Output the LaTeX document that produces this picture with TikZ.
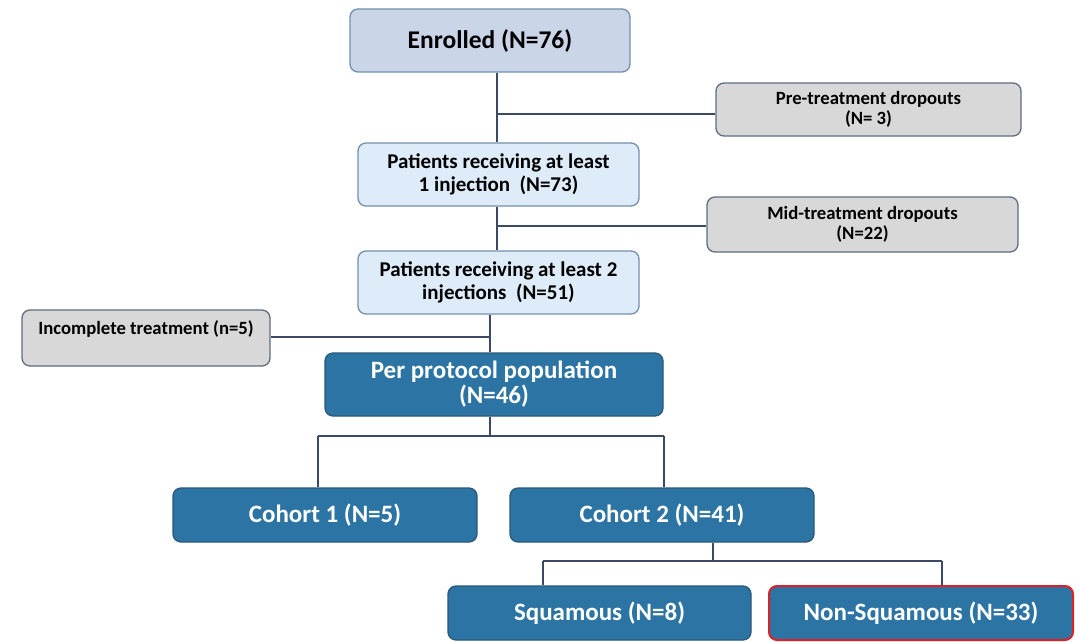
\documentclass[tikz,border=0pt]{standalone}
\usepackage{fontspec}
\setmainfont{Carlito}
\definecolor{lineC}{HTML}{3A4A66}
\definecolor{enrF}{HTML}{CBD5E8}
\definecolor{lbF}{HTML}{DDECF8}
\definecolor{lbD}{HTML}{7390AD}
\definecolor{grF}{HTML}{D8D8D8}
\definecolor{grD}{HTML}{5E6E80}
\definecolor{dbF}{HTML}{2C74A3}
\definecolor{dbD}{HTML}{2A5878}
\definecolor{redD}{HTML}{E02028}
\tikzset{
  box/.style={rectangle, rounded corners=8pt, line width=1.3pt, align=center, font=\bfseries, inner sep=2pt},
  enrbox/.style={box, fill=enrF, draw=lbD, font=\bfseries\fontsize{25.5}{27}\selectfont},
  lbbox/.style={box, fill=lbF, draw=lbD, font=\bfseries\fontsize{21}{23}\selectfont},
  grbox/.style={box, fill=grF, draw=grD, font=\bfseries\fontsize{18.7}{20}\selectfont},
  dbbox/.style={box, fill=dbF, draw=dbD, text=white, font=\bfseries\fontsize{25}{25}\selectfont},
  conn/.style={draw=lineC, line width=1.8pt},
}
\begin{document}
\begin{tikzpicture}[x=1pt,y=-1pt]
\useasboundingbox (0,0) rectangle (1079,641);
\fill[white] (0,0) rectangle (1079,641);
\coordinate (j1) at (497,114);
\coordinate (j2) at (497,226);
\coordinate (j3) at (490,337);
\coordinate (j4) at (490,436);
\coordinate (j4l) at (318,436);
\coordinate (j4r) at (664,436);
\coordinate (j5) at (713,561);
\coordinate (j5l) at (543,561);
\coordinate (j5r) at (942,561);

\node[enrbox, minimum width=280pt, minimum height=63pt] (enr) at (490,40.5) {Enrolled (N=76)};
\node[grbox, minimum width=305pt, minimum height=53pt] (pre) at (868.5,109.5) {Pre-treatment dropouts\\(N= 3)};
\node[lbbox, minimum width=281pt, minimum height=63pt] (p1) at (498.5,174.5) {Patients receiving at least\\1 injection~~(N=73)};
\node[grbox, minimum width=311pt, minimum height=55pt] (mid) at (862.5,224.5) {Mid-treatment dropouts\\(N=22)};
\node[lbbox, minimum width=281pt, minimum height=63pt] (p2) at (498.5,282.5) {Patients receiving at least 2\\injections~~(N=51)};
\node[grbox, minimum width=248pt, minimum height=56pt] (inc) at (146,338) {Incomplete treatment (n=5)\\\mbox{}};
\node[dbbox, minimum width=338pt, minimum height=63pt] (pp) at (494,384.5) {Per protocol population\\(N=46)};
\node[dbbox, minimum width=304pt, minimum height=54pt] (c1) at (325,515) {Cohort 1 (N=5)};
\node[dbbox, minimum width=304pt, minimum height=54pt] (c2) at (662,515) {Cohort 2 (N=41)};
\node[dbbox, minimum width=303pt, minimum height=54pt] (sq) at (599.5,613) {Squamous (N=8)};
\node[dbbox, draw=redD, line width=2pt, minimum width=304pt, minimum height=54pt] (nsq) at (921,613) {Non-Squamous (N=33)};

\draw[conn] (enr.south -| j1) -- (p1.north -| j1);
\draw[conn] (j1) -- (pre.west |- j1);
\draw[conn] (p1.south -| j2) -- (p2.north -| j2);
\draw[conn] (j2) -- (mid.west |- j2);
\draw[conn] (p2.south -| j3) -- (pp.north -| j3);
\draw[conn] (j3) -- (inc.east |- j3);
\draw[conn] (pp.south -| j4) -- (j4);
\draw[conn] (j4l) -- (j4r);
\draw[conn] (j4l) -- (c1.north -| j4l);
\draw[conn] (j4r) -- (c2.north -| j4r);
\draw[conn] (c2.south -| j5) -- (j5);
\draw[conn] (j5l) -- (j5r);
\draw[conn] (j5l) -- (sq.north -| j5l);
\draw[conn] (j5r) -- (nsq.north -| j5r);
\end{tikzpicture}
\end{document}
